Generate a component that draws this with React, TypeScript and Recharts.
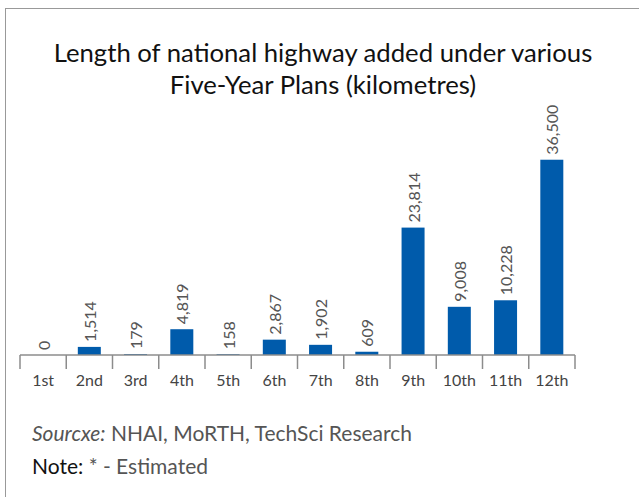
import React from "react";
import { BarChart, Bar, XAxis, YAxis, LabelList } from "recharts";

const plans = ["1st", "2nd", "3rd", "4th", "5th", "6th", "7th", "8th", "9th", "10th", "11th", "12th"];
const kilometres = [0, 1514, 179, 4819, 158, 2867, 1902, 609, 23814, 9008, 10228, 36500];

const data = plans.map((p, i) => ({ plan: p, km: kilometres[i] }));

const FONT = "Lato, 'Open Sans', sans-serif";
const TICK_SIZE = 14;
const TICK_MARGIN = 6;
const AXIS_GRAY = "#8c8c8c";
const BAR_BLUE = "#005bab";

const ValueLabel = (props: any) => {
  const { x, y, width, value } = props;
  const cx = Number(x) + Number(width) / 2;
  const ty = Number(y) - 5;
  return (
    <text
      x={cx}
      y={ty}
      transform={`rotate(-90 ${cx} ${ty})`}
      textAnchor="start"
      dominantBaseline="central"
      fill="#555555"
      fontSize={16}
      fontFamily={FONT}
    >
      {Number(value).toLocaleString("en-US")}
    </text>
  );
};

const BarShape = (props: any) => {
  const { x, y, width, height } = props;
  const h = Number(height);
  if (!isFinite(h) || h <= 0) return null;
  return <rect x={x} y={y} width={width} height={h} fill={BAR_BLUE} />;
};

const PlanTick = (props: any) => {
  const { x, y, payload, index, visibleTicksCount } = props;
  const half = Number(payload?.offset ?? 0);
  const axisY = Number(y) - TICK_SIZE - TICK_MARGIN;
  const isLast = index === (visibleTicksCount ?? plans.length) - 1;
  return (
    <g>
      <line x1={x - half} x2={x - half} y1={axisY} y2={axisY + TICK_SIZE} stroke={AXIS_GRAY} strokeWidth={1.5} />
      {isLast && (
        <line x1={x + half} x2={x + half} y1={axisY} y2={axisY + TICK_SIZE} stroke={AXIS_GRAY} strokeWidth={1.5} />
      )}
      <text x={x} y={y} dy="0.71em" textAnchor="middle" fill="#444" fontSize={16} fontFamily={FONT}>
        {payload.value}
      </text>
    </g>
  );
};

export default function App() {
  return (
    <div style={{ position: "absolute", left: 0, top: 0, width: 639, height: 497, background: "#fff", overflow: "hidden" }}>
      <div
        style={{
          position: "absolute",
          left: 5,
          top: 8,
          width: 640,
          height: 500,
          borderTop: "1.5px solid #999",
          borderLeft: "1.5px solid #999",
        }}
      />
      <div
        style={{
          position: "absolute",
          left: 0,
          top: 36,
          width: 646,
          textAlign: "center",
          fontFamily: FONT,
          fontSize: 25.7,
          lineHeight: "32px",
          color: "#111",
          whiteSpace: "nowrap",
        }}
      >
        Length of national highway added under various
        <br />
        Five-Year Plans (kilometres)
      </div>
      <div style={{ position: "absolute", left: 0, top: 0 }}>
        <BarChart
          width={639}
          height={497}
          data={data}
          margin={{ top: 141, right: 64, bottom: 112, left: 20 }}
          barCategoryGap="25%"
        >
          <XAxis
            dataKey="plan"
            height={30}
            axisLine={{ stroke: AXIS_GRAY, strokeWidth: 1.5 }}
            tickLine={false}
            tickSize={TICK_SIZE}
            tickMargin={TICK_MARGIN}
            interval={0}
            tick={<PlanTick />}
          />
          <YAxis hide domain={[0, 40000]} />
          <Bar dataKey="km" fill={BAR_BLUE} shape={<BarShape />} isAnimationActive={false}>
            <LabelList dataKey="km" content={<ValueLabel />} />
          </Bar>
        </BarChart>
      </div>
      <div style={{ position: "absolute", left: 32, top: 420, fontFamily: FONT, fontSize: 21, lineHeight: "25px", color: "#555", whiteSpace: "nowrap" }}>
        <i>Sourcxe:</i> NHAI, MoRTH, TechSci Research
      </div>
      <div style={{ position: "absolute", left: 32, top: 453, fontFamily: FONT, fontSize: 21, lineHeight: "25px", color: "#555", whiteSpace: "nowrap" }}>
        <span style={{ color: "#111" }}>Note:</span> * - Estimated
      </div>
    </div>
  );
}
